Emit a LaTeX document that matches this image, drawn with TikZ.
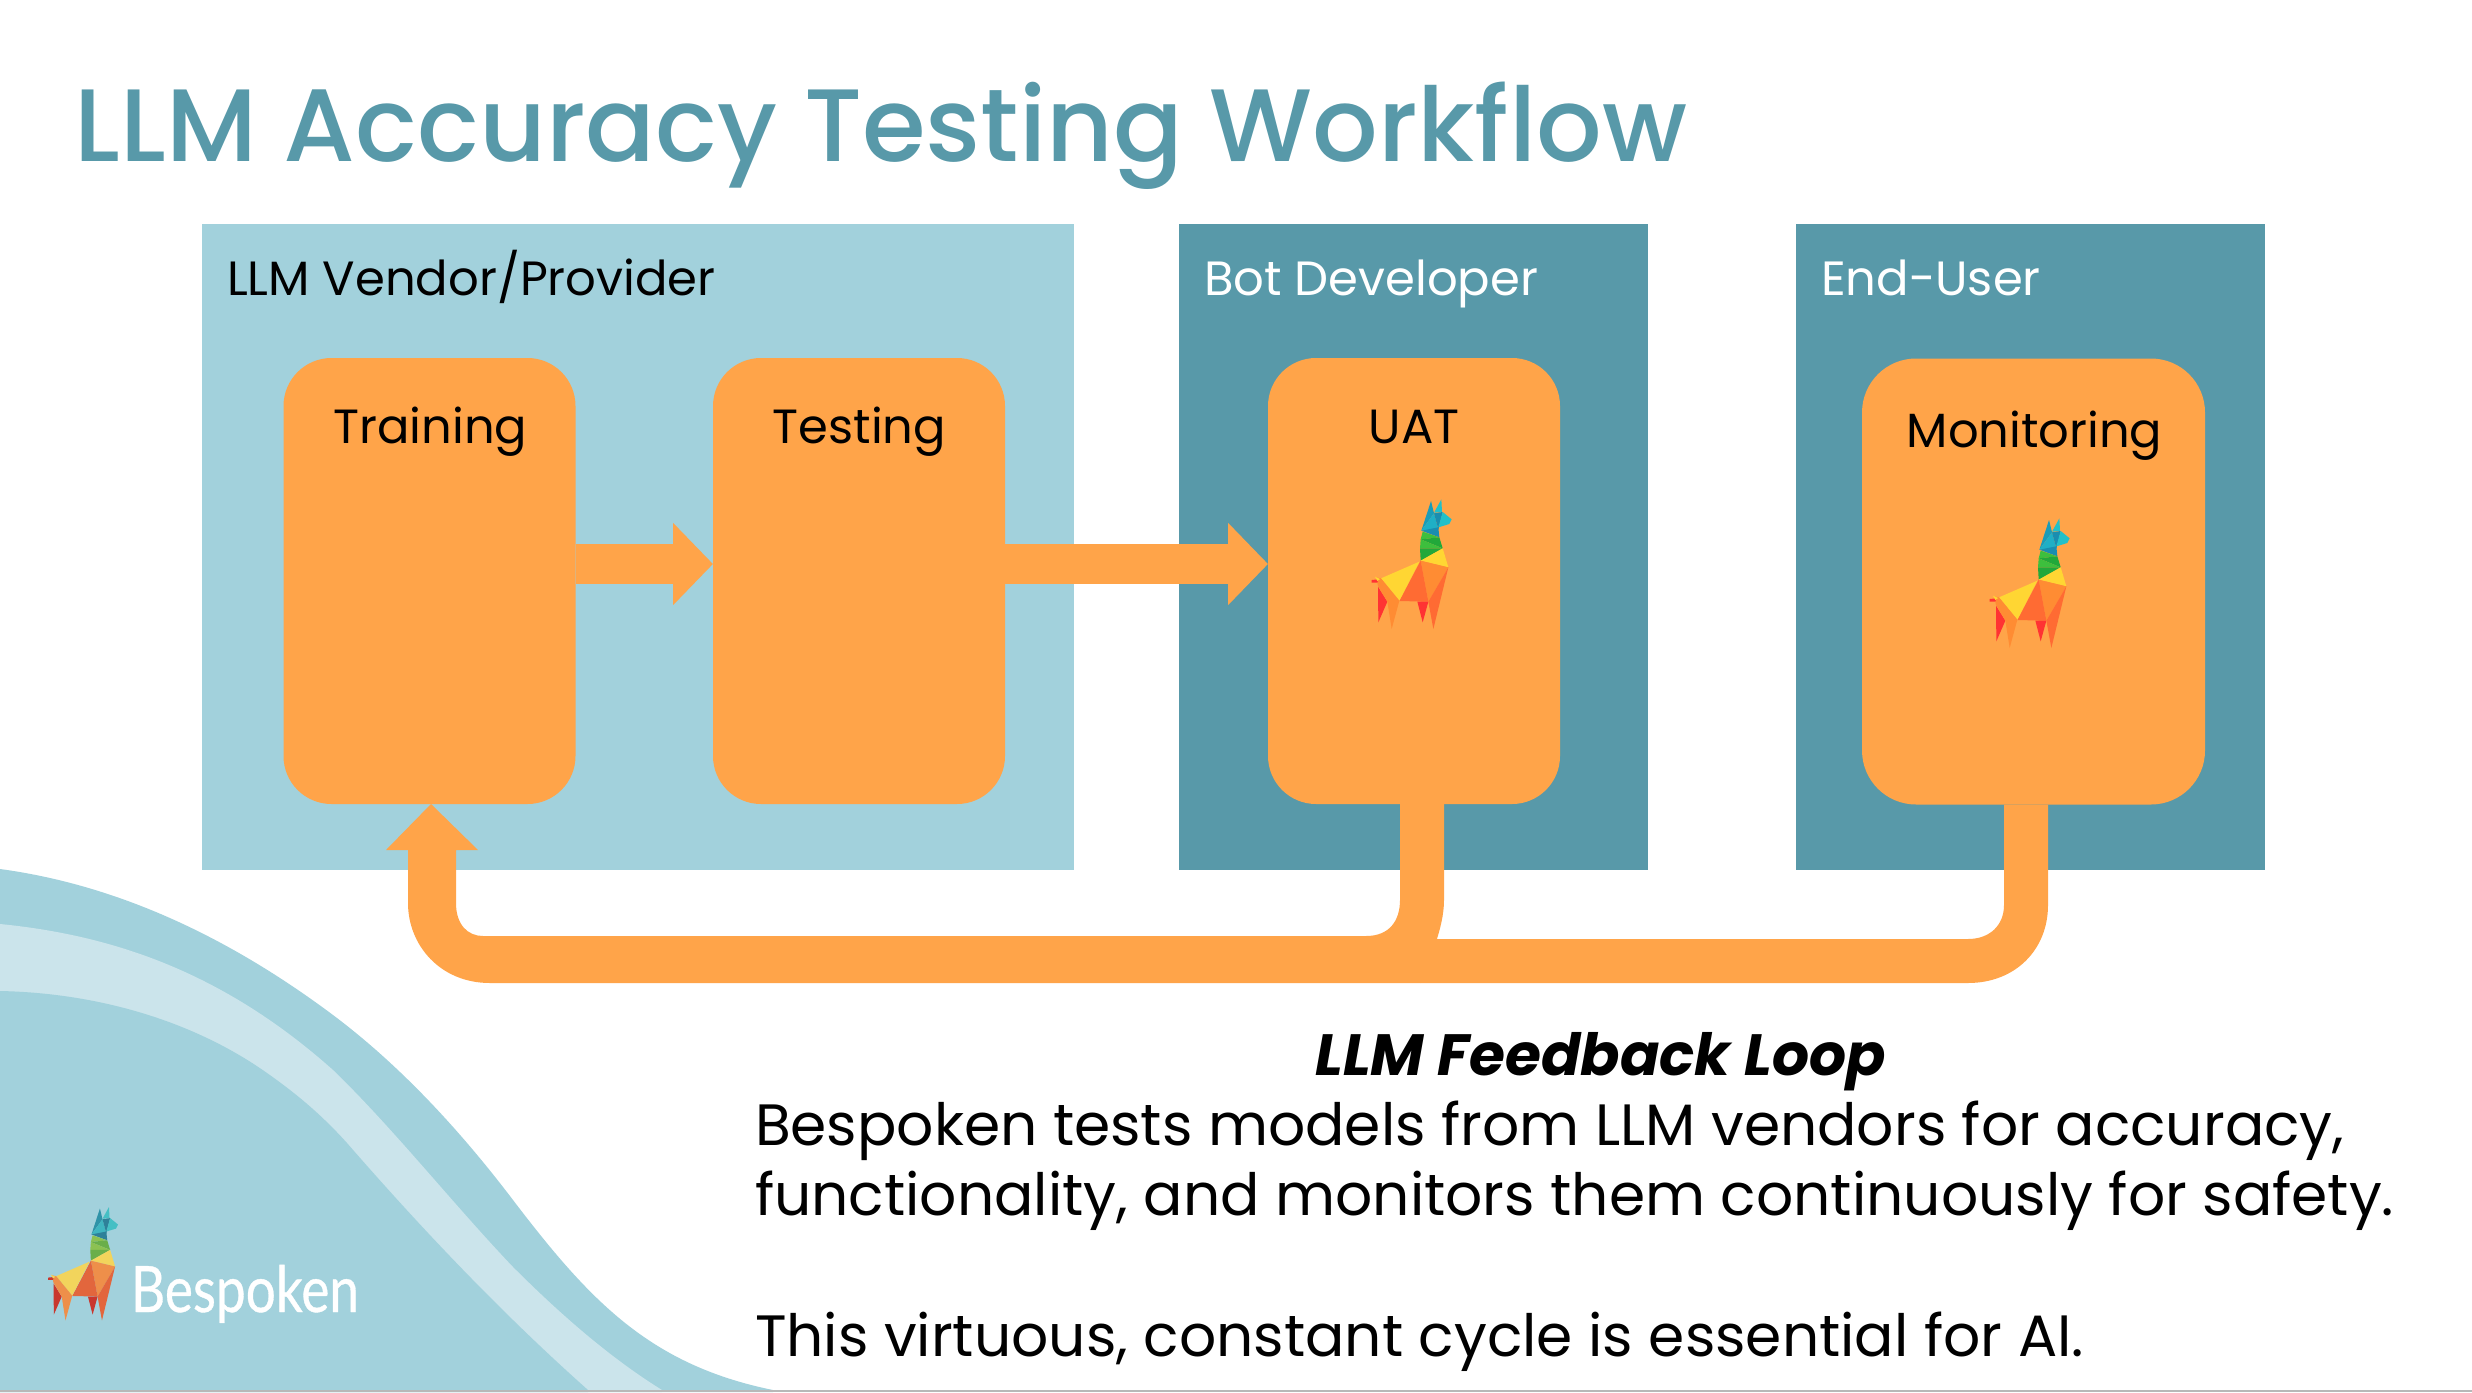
\documentclass[tikz,border=0pt]{standalone}
\usepackage{fontspec}
\setmainfont{Poppins}
\newfontfamily\titlefont{Poppins}[UprightFont={* Medium}]
\newfontfamily\logofont{Lato}[FakeBold=0.6]
\usetikzlibrary{arrows.meta,calc}
\definecolor{paleblue}{HTML}{A2D1DC}
\definecolor{paleband}{HTML}{CBE4EB}
\definecolor{tealbox}{HTML}{5899A9}
\definecolor{titleteal}{HTML}{5899A9}
\definecolor{boxorange}{HTML}{FFA449}
\definecolor{edgegray}{HTML}{B8B8B8}
\definecolor{lBlueA}{HTML}{1B9CB8}
\definecolor{lBlueB}{HTML}{1FAFC6}
\definecolor{lBlueC}{HTML}{22C0C9}
\definecolor{lBlueD}{HTML}{1A8DB0}
\definecolor{lGreenA}{HTML}{3DBF3D}
\definecolor{lGreenB}{HTML}{22A83A}
\definecolor{lYellow}{HTML}{FFD633}
\definecolor{lOrange}{HTML}{FF8C33}
\definecolor{lBody}{HTML}{FF6B33}
\definecolor{lRed}{HTML}{FF3333}
\newcommand{\llamafig}{%
  \fill[lBlueA] (393,63)--(402,100)--(364,152)--cycle;
  \fill[lBlueB] (402,100)--(364,152)--(415,148)--cycle;
  \fill[lBlueC] (424,58)--(426,96)--(402,98)--cycle;
  \fill[lBlueD] (402,100)--(428,96)--(415,148)--cycle;
  \fill[lBlueC] (428,96)--(455,118)--(448,132)--(415,142)--cycle;
  \fill[lBlueD] (364,152)--(415,142)--(418,172)--cycle;
  \fill[lGreenA] (368,155)--(418,172)--(362,178)--cycle;
  \fill[lGreenB] (362,178)--(418,172)--(428,205)--cycle;
  \fill[lGreenA] (360,205)--(428,205)--(362,178)--cycle;
  \fill[lGreenB] (360,205)--(428,205)--(362,242)--cycle;
  \fill[lYellow] (362,242)--(428,205)--(445,262)--cycle;
  \fill[lOrange] (362,242)--(445,262)--(385,365)--cycle;
  \fill[lBody] (362,242)--(385,365)--(298,363)--cycle;
  \fill[lYellow] (358,245)--(298,362)--(243,295)--cycle;
  \fill[lRed] (234,320)--(262,365)--(235,427)--cycle;
  \fill[lOrange] (243,295)--(298,362)--(275,447)--(262,365)--(234,318)--(228,292)--cycle;
  \fill[lRed] (352,365)--(385,365)--(368,427)--cycle;
  \fill[lBody] (445,262)--(385,365)--(400,447)--cycle;
  \fill[lRed] (215,300)--(235,298)--(232,308)--(215,308)--cycle;
  \fill[lYellow] (225,290)--(240,297)--(232,303)--cycle;
}
\tikzset{
  zone/.style={draw=none,rectangle,inner sep=0pt,outer sep=0pt},
  stagebox/.style={draw=none,fill=boxorange,rectangle,rounded corners=24pt,inner sep=0pt,outer sep=0pt,minimum width=146pt,minimum height=223pt},
  zonelabel/.style={anchor=base west,inner sep=0pt,outer sep=0pt,font=\fontsize{24.05}{28}\selectfont},
  stagelabel/.style={anchor=base,inner sep=0pt,outer sep=0pt,font=\fontsize{24}{28}\selectfont,text=black},
  bodyline/.style={anchor=base west,inner sep=0pt,outer sep=0pt,text=black,font=\fontsize{29.15}{34}\selectfont},
  flowarrow/.style={draw=boxorange,line width=20pt,-{Triangle[length=20pt,width=40pt,fill=boxorange]}},
}
\begin{document}
\begin{tikzpicture}[x=0.5pt,y=-0.5pt]
\useasboundingbox (0,0) rectangle (2472,1392);
\fill[white] (0,0) rectangle (2472,1392);
% wave
\fill[paleblue] (0,1392) -- (0,869) .. controls (111,884) and (222,932) .. (333,1015) .. controls (393,1060) and (453,1121) .. (513,1200) .. controls (590,1301) and (650,1365) .. (773,1390) -- (773,1392) -- cycle;
\fill[paleband] (0,1392) -- (0,924) .. controls (111,935) and (222,971) .. (333,1070) .. controls (393,1128) and (453,1204) .. (513,1267) .. controls (563,1317) and (612,1359) .. (662,1390) -- (662,1392) -- cycle;
\fill[paleblue] (0,1392) -- (0,991) .. controls (100,993) and (195,1022) .. (267,1073) .. controls (294,1092) and (320,1113) .. (347,1143) .. controls (427,1235) and (507,1318) .. (588,1390) -- (588,1392) -- cycle;
\fill[edgegray] (0,1390) rectangle (2472,1392);
% title
\node[anchor=base west,inner sep=0pt,text=titleteal,font=\titlefont\fontsize{51.5}{60}\selectfont] (title) at (74.5,161) {LLM Accuracy Testing Workflow};
% zones
\node[zone,fill=paleblue,minimum width=436pt,minimum height=323pt] (vendor) at (638,547) {};
\node[zone,fill=tealbox,minimum width=234.5pt,minimum height=323pt] (dev) at (1413.5,547) {};
\node[zone,fill=tealbox,minimum width=234.5pt,minimum height=323pt] (enduser) at (2030.5,547) {};
\node[zonelabel,text=black] (vendorlabel) at (227,295) {LLM Vendor/Provider};
\node[zonelabel,text=white] (devlabel) at (1204,295) {Bot Developer};
\node[zonelabel,text=white] (enduserlabel) at (1821,295) {End-User};
% stages
\node[stagebox] (training) at (429.5,581) {};
\node[stagebox] (testing) at (859,581) {};
\node[stagebox] (uat) at (1414,581) {};
\node[stagebox,minimum width=171.5pt,rounded corners=27pt] (monitoring) at (2033.5,581.5) {};
\node[stagelabel] (trainingtext) at (430.5,443) {Training};
\node[stagelabel] (testingtext) at (859.5,443) {Testing};
\node[stagelabel] (uattext) at (1414,443) {UAT};
\node[stagelabel] (monitoringtext) at (2034.5,447) {Monitoring};
% straight arrows
\coordinate (lane) at (0,564);
\draw[flowarrow] (training.east |- lane) -- (testing.west |- lane);
\draw[flowarrow] (testing.east |- lane) -- (uat.west |- lane);
% feedback: monitoring joins the loop
\fill[boxorange] ($(monitoring.south)+(14.5,0)$) -- (2048,905) .. controls (2048,950) and (2015,983) .. (1968,983) -- (1420,983) -- (1420,939) -- (1968,939) .. controls (1990,939) and (2004,925) .. (2004,905) -- ($(monitoring.south)+(-29.5,0)$) -- cycle;
% feedback: UAT back to training
\fill[boxorange] ($(uat.south)+(30,0)$) -- (1444,900) .. controls (1444,915) and (1440,930) .. (1435,945) -- (1420,983) -- (490,983) .. controls (440,983) and (408,945) .. (408,903) -- (408,850) -- (386,850) -- ($(training.south)+(1.5,0)$) -- (478,850) -- (456,850) -- (456,903) .. controls (456,925) and (468,936) .. (483,936) -- (1366,936) .. controls (1390,936) and (1400,920) .. (1400,900) -- ($(uat.south)+(-14,0)$) -- cycle;
% llamas
\begin{scope}[shift={(1300,480)},x=0.16667pt,y=-0.16667pt]\llamafig\end{scope}
\begin{scope}[shift={(1918,499)},x=0.16667pt,y=-0.16667pt]\llamafig\end{scope}
\begin{scope}[shift={(-14.7,1190.1)},x=0.14583pt,y=-0.14583pt]
\definecolor{lBlueA}{HTML}{2F93A8}\definecolor{lBlueB}{HTML}{3FB5C0}\definecolor{lBlueC}{HTML}{45BFC4}\definecolor{lBlueD}{HTML}{2E8199}
\definecolor{lGreenA}{HTML}{8CC152}\definecolor{lGreenB}{HTML}{6AAE4A}\definecolor{lYellow}{HTML}{F2D45C}
\definecolor{lOrange}{HTML}{EE8F4A}\definecolor{lBody}{HTML}{E2663D}\definecolor{lRed}{HTML}{C9372E}
\llamafig
\end{scope}
\node[anchor=base west,inner sep=0pt,text=white,font=\logofont\fontsize{32}{36}\selectfont] (logotext) at (130.5,1312) {\scalebox{0.83}[1]{Bespoken}};
% text
\node[anchor=base,inner sep=0pt,text=black,font=\fontsize{29.1}{34}\selectfont\bfseries\itshape] (looptitle) at (1600.5,1075.5) {LLM Feedback Loop};
\node[bodyline] (line1) at (755,1145.5) {Bespoken tests models from LLM vendors for accuracy,};
\node[bodyline] (line2) at (755,1215.5) {functionality, and monitors them continuously for safety.};
\node[bodyline] (line3) at (755,1356) {This virtuous, constant cycle is essential for AI.};
\end{tikzpicture}
\end{document}
